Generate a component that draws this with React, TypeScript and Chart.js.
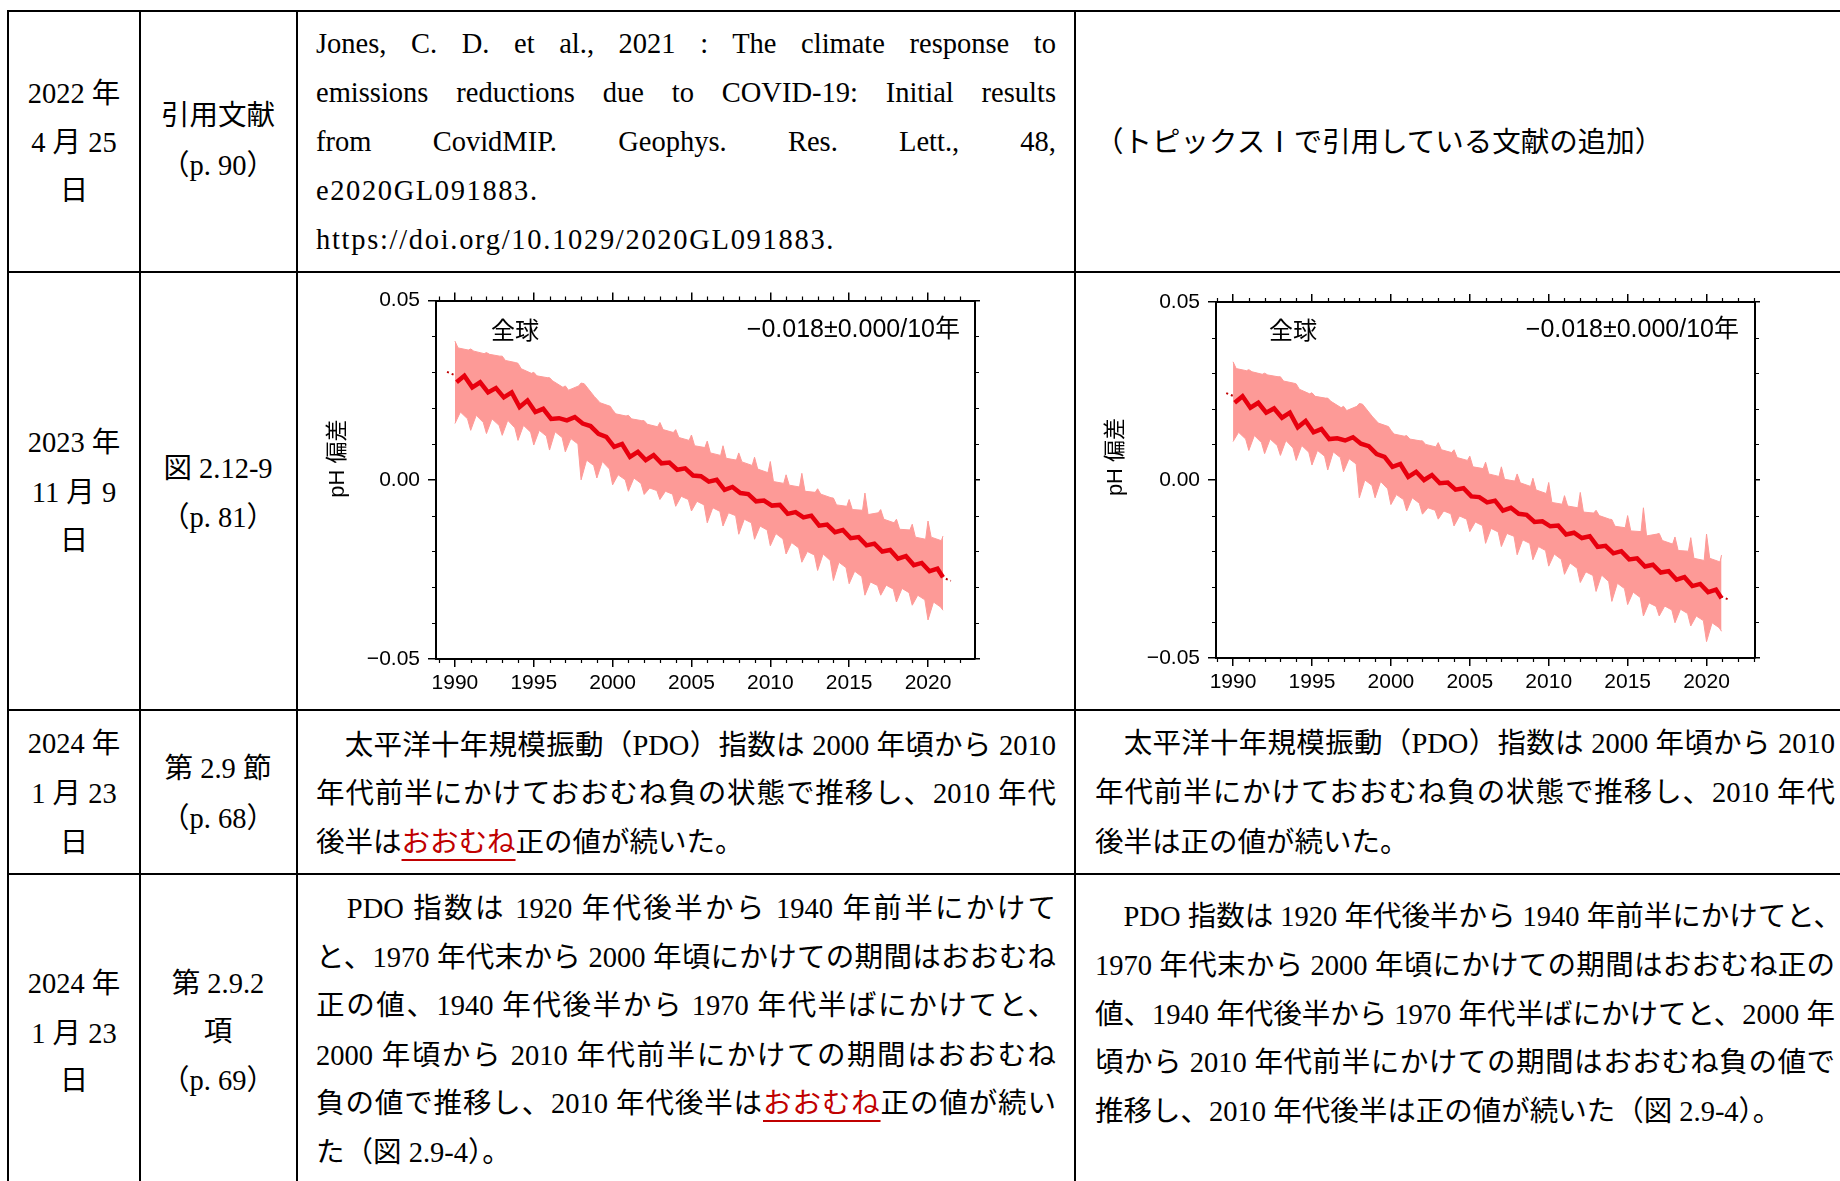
import React, { useEffect, useRef } from 'react';
import { Chart, registerables } from 'chart.js';

Chart.register(...registerables);

// ---------------- chart data ----------------
const YEARS = [1990, 1991, 1992, 1993, 1994, 1995, 1996, 1997, 1998, 1999, 2000, 2001, 2002, 2003, 2004, 2005, 2006, 2007, 2008, 2009, 2010, 2011, 2012, 2013, 2014, 2015, 2016, 2017, 2018, 2019, 2020];
const END_YEAR = 2020.95;
const X_TICKS = [1990, 1995, 2000, 2005, 2010, 2015, 2020];
const Y_TICKS = [-0.05, 0, 0.05];
const X_MINOR_STEP = 1;
const Y_MINOR_STEP = 0.01;

const TITLE_TEXT = '全球';
const RATE_TEXT = '−0.018±0.000/10年';
const Y_TITLE = 'pH 偏差';

// chart 1 (left figure)
const C1_UPPER_SPIKE = [0.0387, 0.0365, 0.0355, 0.0345, 0.0325, 0.0300, 0.0285, 0.0262, 0.0270, 0.0225, 0.0195, 0.0180, 0.0165, 0.0160, 0.0140, 0.0125, 0.0108, 0.0095, 0.0075, 0.0063, 0.0051, 0.0014, 0.0018, -0.0025, -0.0051, -0.0055, -0.0037, -0.0083, -0.0110, -0.0124, -0.0115];
const C1_UPPER_A = [0.0368, 0.0359, 0.0350, 0.0333, 0.0310, 0.0290, 0.0276, 0.0250, 0.0268, 0.0215, 0.0184, 0.0170, 0.0155, 0.0140, 0.0118, 0.0095, 0.0075, 0.0060, 0.0050, 0.0030, -0.0005, -0.0015, -0.0032, -0.0040, -0.0070, -0.0083, -0.0097, -0.0110, -0.0138, -0.0160, -0.0160];
const C1_UPPER_B = [0.0362, 0.0352, 0.0345, 0.0327, 0.0297, 0.0285, 0.0258, 0.0262, 0.0232, 0.0205, 0.0178, 0.0165, 0.0148, 0.0132, 0.0110, 0.0090, 0.0068, 0.0055, 0.0040, 0.0020, -0.0010, -0.0020, -0.0035, -0.0050, -0.0074, -0.0085, -0.0092, -0.0120, -0.0140, -0.0166, -0.0170];
const C1_UPPER_END = -0.0157;
const C1_LOWER_CUSP = [0.0157, 0.0138, 0.0129, 0.0124, 0.0110, 0.0097, 0.0083, 0.0078, 0.0000, 0.0005, -0.0014, -0.0032, -0.0041, -0.0055, -0.0074, -0.0087, -0.0120, -0.0129, -0.0152, -0.0166, -0.0184, -0.0207, -0.0230, -0.0253, -0.0281, -0.0290, -0.0322, -0.0322, -0.0341, -0.0350, -0.0391];
const C1_LOWER_HUMP = [0.0189, 0.0180, 0.0170, 0.0166, 0.0152, 0.0138, 0.0134, 0.0115, 0.0055, 0.0051, 0.0014, 0.0005, -0.0023, -0.0032, -0.0046, -0.0060, -0.0078, -0.0092, -0.0110, -0.0129, -0.0150, -0.0175, -0.0200, -0.0207, -0.0230, -0.0255, -0.0285, -0.0294, -0.0303, -0.0322, -0.0341];
const C1_LOWER_LATE = [0.0170, 0.0160, 0.0152, 0.0145, 0.0133, 0.0122, 0.0118, 0.0100, 0.0040, 0.0030, 0.0000, -0.0010, -0.0030, -0.0040, -0.0055, -0.0070, -0.0088, -0.0100, -0.0120, -0.0140, -0.0165, -0.0190, -0.0210, -0.0225, -0.0245, -0.0270, -0.0295, -0.0305, -0.0315, -0.0335, -0.0355];
const C1_LOWER_END = -0.0364;
const C1_MEAN_LOW = [0.0272, 0.0258, 0.0244, 0.0230, 0.0203, 0.0189, 0.0170, 0.0166, 0.0157, 0.0128, 0.0092, 0.0064, 0.0055, 0.0046, 0.0028, 0.0012, -0.0005, -0.0028, -0.0037, -0.0060, -0.0072, -0.0095, -0.0105, -0.0128, -0.0146, -0.0163, -0.0183, -0.0200, -0.0220, -0.0238, -0.0255];
const C1_MEAN_HIGH = [0.0290, 0.0272, 0.0256, 0.0244, 0.0221, 0.0198, 0.0172, 0.0175, 0.0150, 0.0120, 0.0100, 0.0078, 0.0069, 0.0048, 0.0032, 0.0010, 0.0000, -0.0020, -0.0040, -0.0058, -0.0070, -0.0090, -0.0100, -0.0125, -0.0140, -0.0160, -0.0178, -0.0196, -0.0213, -0.0232, -0.0248];
const C1_MEAN_END = -0.0272;
const C1_TREND_X = [1989.5, 2021.45];
const C1_TREND_Y = [0.0301, -0.0282];

// chart 2 (right figure)
const C2_UPPER_SPIKE = [0.0332, 0.0310, 0.0300, 0.0290, 0.0270, 0.0245, 0.0230, 0.0207, 0.0215, 0.0170, 0.0140, 0.0125, 0.0110, 0.0105, 0.0085, 0.0067, 0.0050, 0.0037, 0.0017, 0.0005, -0.0007, -0.0044, -0.0035, -0.0085, -0.0111, -0.0100, -0.0078, -0.0150, -0.0160, -0.0162, -0.0152];
const C2_UPPER_A = [0.0313, 0.0304, 0.0295, 0.0278, 0.0255, 0.0235, 0.0221, 0.0195, 0.0213, 0.0160, 0.0129, 0.0115, 0.0100, 0.0085, 0.0063, 0.0037, 0.0017, 0.0002, -0.0008, -0.0028, -0.0063, -0.0073, -0.0090, -0.0100, -0.0130, -0.0143, -0.0157, -0.0170, -0.0198, -0.0220, -0.0220];
const C2_UPPER_B = [0.0307, 0.0297, 0.0290, 0.0272, 0.0242, 0.0230, 0.0203, 0.0207, 0.0177, 0.0150, 0.0123, 0.0110, 0.0093, 0.0077, 0.0055, 0.0032, 0.0010, -0.0003, -0.0018, -0.0038, -0.0068, -0.0078, -0.0093, -0.0110, -0.0134, -0.0145, -0.0152, -0.0180, -0.0200, -0.0226, -0.0230];
const C2_UPPER_END = -0.0211;
const C2_LOWER_CUSP = [0.0108, 0.0083, 0.0074, 0.0069, 0.0055, 0.0042, 0.0028, 0.0023, -0.0050, -0.0050, -0.0069, -0.0087, -0.0096, -0.0110, -0.0129, -0.0145, -0.0178, -0.0187, -0.0210, -0.0224, -0.0242, -0.0265, -0.0288, -0.0313, -0.0341, -0.0350, -0.0382, -0.0382, -0.0401, -0.0410, -0.0454];
const C2_LOWER_HUMP = [0.0134, 0.0125, 0.0115, 0.0111, 0.0097, 0.0083, 0.0079, 0.0060, 0.0000, -0.0004, -0.0041, -0.0050, -0.0078, -0.0087, -0.0101, -0.0118, -0.0136, -0.0150, -0.0168, -0.0187, -0.0208, -0.0233, -0.0258, -0.0267, -0.0290, -0.0315, -0.0345, -0.0354, -0.0363, -0.0382, -0.0401];
const C2_LOWER_LATE = [0.0115, 0.0105, 0.0097, 0.0090, 0.0078, 0.0067, 0.0063, 0.0045, -0.0015, -0.0025, -0.0055, -0.0065, -0.0085, -0.0095, -0.0110, -0.0128, -0.0146, -0.0158, -0.0178, -0.0198, -0.0223, -0.0248, -0.0268, -0.0285, -0.0305, -0.0330, -0.0355, -0.0365, -0.0375, -0.0395, -0.0415];
const C2_LOWER_END = -0.0425;
const C2_MEAN_LOW = [0.0217, 0.0203, 0.0189, 0.0175, 0.0148, 0.0134, 0.0115, 0.0111, 0.0102, 0.0073, 0.0037, 0.0009, 0.0000, -0.0009, -0.0027, -0.0046, -0.0063, -0.0086, -0.0095, -0.0118, -0.0130, -0.0153, -0.0163, -0.0188, -0.0206, -0.0223, -0.0243, -0.0260, -0.0280, -0.0298, -0.0315];
const C2_MEAN_HIGH = [0.0235, 0.0217, 0.0201, 0.0189, 0.0166, 0.0143, 0.0117, 0.0120, 0.0095, 0.0065, 0.0045, 0.0023, 0.0014, -0.0007, -0.0023, -0.0048, -0.0058, -0.0078, -0.0098, -0.0116, -0.0128, -0.0148, -0.0158, -0.0185, -0.0200, -0.0220, -0.0238, -0.0256, -0.0273, -0.0292, -0.0308];
const C2_MEAN_END = -0.0332;
const C2_TREND_X = [1989.57, 2021.47];
const C2_TREND_Y = [0.0244, -0.0337];

// ---------------- styles ----------------
const PINK = '#fd9a97';
const RED = '#e8000e';
const TREND_RED = '#c00000';
const SANS = '"Liberation Sans", Arial, sans-serif';
const SERIF = '"Liberation Serif", "Noto Sans CJK JP", serif';
const RED_TEXT = '#c00000';
const FS = 28.5;
const LH = 49;

type SeriesSet = {
  upperSpike: number[]; upperA: number[]; upperB: number[]; upperEnd: number;
  lowerCusp: number[]; lowerHump: number[]; lowerLate: number[]; lowerEnd: number;
  meanLow: number[]; meanHigh: number[]; meanEnd: number;
  trendX: number[]; trendY: number[];
};

type Geom = {
  left: number; top: number; W: number; H: number;
  L: number; R: number; T: number; B: number;
  xMin: number; xMax: number;
  titleDx: number; titleDy: number; rateDx: number; rateDy: number;
  yTitleDx: number; yTitleDy: number;
};

const SET1: SeriesSet = {
  upperSpike: C1_UPPER_SPIKE, upperA: C1_UPPER_A, upperB: C1_UPPER_B, upperEnd: C1_UPPER_END,
  lowerCusp: C1_LOWER_CUSP, lowerHump: C1_LOWER_HUMP, lowerLate: C1_LOWER_LATE, lowerEnd: C1_LOWER_END,
  meanLow: C1_MEAN_LOW, meanHigh: C1_MEAN_HIGH, meanEnd: C1_MEAN_END,
  trendX: C1_TREND_X, trendY: C1_TREND_Y,
};
const SET2: SeriesSet = {
  upperSpike: C2_UPPER_SPIKE, upperA: C2_UPPER_A, upperB: C2_UPPER_B, upperEnd: C2_UPPER_END,
  lowerCusp: C2_LOWER_CUSP, lowerHump: C2_LOWER_HUMP, lowerLate: C2_LOWER_LATE, lowerEnd: C2_LOWER_END,
  meanLow: C2_MEAN_LOW, meanHigh: C2_MEAN_HIGH, meanEnd: C2_MEAN_END,
  trendX: C2_TREND_X, trendY: C2_TREND_Y,
};

const GEOM1: Geom = {
  left: 320, top: 280, W: 680, H: 425, L: 116, R: 25, T: 19, B: 46,
  xMin: 1988.8, xMax: 2022.98,
  titleDx: 55, titleDy: 29, rateDx: 15, rateDy: 30, yTitleDx: 98, yTitleDy: 158,
};
const GEOM2: Geom = {
  left: 1100, top: 280, W: 680, H: 425, L: 116, R: 25, T: 22, B: 47,
  xMin: 1988.92, xMax: 2023.07,
  titleDx: 53, titleDy: 28, rateDx: 16, rateDy: 28, yTitleDx: 100, yTitleDy: 155,
};

function fmtY(v: number) {
  if (Math.abs(v) < 1e-9) return '0.00';
  return (v < 0 ? '\u2212' : '') + Math.abs(v).toFixed(2);
}

function buildConfig(d: SeriesSet, g: Geom): any {
  const upper: { x: number; y: number }[] = [];
  const lower: { x: number; y: number }[] = [];
  const mean: { x: number; y: number }[] = [];
  YEARS.forEach((yr, i) => {
    upper.push({ x: yr, y: d.upperSpike[i] }, { x: yr + 0.2, y: d.upperA[i] }, { x: yr + 0.85, y: d.upperB[i] });
    lower.push({ x: yr, y: d.lowerCusp[i] }, { x: yr + 0.35, y: d.lowerHump[i] }, { x: yr + 0.8, y: d.lowerLate[i] });
    mean.push({ x: yr + 0.1, y: d.meanLow[i] }, { x: yr + 0.6, y: d.meanHigh[i] });
  });
  upper.push({ x: END_YEAR, y: d.upperEnd });
  lower.push({ x: END_YEAR, y: d.lowerEnd });
  mean.push({ x: END_YEAR, y: d.meanEnd });
  const trend = d.trendX.map((x, i) => ({ x, y: d.trendY[i] }));

  const gridCommon = { display: true, drawOnChartArea: false, drawTicks: true, color: '#000', lineWidth: 1.5 };
  const borderCommon = { display: true, color: '#000', width: 2 };

  const decor = {
    id: 'decor',
    afterDraw(chart: any) {
      const { ctx, chartArea: ca, scales } = chart;
      const xs = scales.x;
      const ys = scales.y;
      ctx.save();
      ctx.strokeStyle = '#000';
      ctx.lineWidth = 1.2;
      ctx.beginPath();
      for (let v = Math.ceil(xs.min); v <= xs.max; v += X_MINOR_STEP) {
        if (X_TICKS.includes(v)) continue;
        const px = Math.round(xs.getPixelForValue(v)) + 0.5;
        ctx.moveTo(px, ca.bottom); ctx.lineTo(px, ca.bottom + 4);
        ctx.moveTo(px, ca.top); ctx.lineTo(px, ca.top - 4);
      }
      for (let k = -5; k <= 5; k++) {
        const v = k * Y_MINOR_STEP;
        if (k % 5 === 0) continue;
        const py = Math.round(ys.getPixelForValue(v)) + 0.5;
        ctx.moveTo(ca.left, py); ctx.lineTo(ca.left - 4, py);
        ctx.moveTo(ca.right, py); ctx.lineTo(ca.right + 4, py);
      }
      ctx.stroke();

      ctx.fillStyle = '#000';
      ctx.textBaseline = 'middle';
      ctx.textAlign = 'left';
      ctx.font = '24px "Noto Sans CJK JP", sans-serif';
      ctx.fillText(TITLE_TEXT, ca.left + g.titleDx, ca.top + g.titleDy);
      ctx.textAlign = 'right';
      ctx.font = '25px "Liberation Sans", "Noto Sans CJK JP", sans-serif';
      ctx.fillText(RATE_TEXT, ca.right - g.rateDx, ca.top + g.rateDy);

      ctx.translate(ca.left - g.yTitleDx, ca.top + g.yTitleDy);
      ctx.rotate(-Math.PI / 2);
      ctx.textAlign = 'center';
      ctx.font = '22px "Liberation Sans", "Noto Sans CJK JP", sans-serif';
      ctx.fillText(Y_TITLE, 0, 0);
      ctx.restore();
    },
  };

  return {
    type: 'line',
    data: {
      datasets: [
        { data: upper, fill: '+1', backgroundColor: PINK, borderColor: PINK, borderWidth: 1, pointRadius: 0, tension: 0, order: 10 },
        { data: lower, fill: false, borderColor: PINK, borderWidth: 1, pointRadius: 0, tension: 0, order: 9 },
        { data: trend, fill: false, borderColor: TREND_RED, borderWidth: 2, borderDash: [2, 3], pointRadius: 0, order: 20 },
        { data: mean, fill: false, borderColor: RED, borderWidth: 4.5, pointRadius: 0, tension: 0, order: 1 },
      ],
    },
    options: {
      responsive: false,
      animation: false,
      devicePixelRatio: 1,
      layout: { padding: 0 },
      plugins: { legend: { display: false }, tooltip: { enabled: false }, title: { display: false } },
      scales: {
        x: {
          type: 'linear', position: 'bottom', min: g.xMin, max: g.xMax,
          afterBuildTicks: (s: any) => { s.ticks = X_TICKS.map((v) => ({ value: v })); },
          afterFit: (s: any) => { s.height = g.B; },
          ticks: { autoSkip: false, maxRotation: 0, padding: 4, color: '#000', font: { family: SANS, size: 21 }, callback: (v: any) => String(v) },
          grid: { ...gridCommon, tickLength: 8 },
          border: borderCommon,
        },
        x2: {
          type: 'linear', position: 'top', min: g.xMin, max: g.xMax,
          afterBuildTicks: (s: any) => { s.ticks = X_TICKS.map((v) => ({ value: v })); },
          afterFit: (s: any) => { s.height = g.T; },
          ticks: { display: false },
          grid: { ...gridCommon, tickLength: 8 },
          border: borderCommon,
        },
        y: {
          type: 'linear', position: 'left', min: -0.05, max: 0.05,
          afterBuildTicks: (s: any) => { s.ticks = Y_TICKS.map((v) => ({ value: v })); },
          afterFit: (s: any) => { s.width = g.L; },
          ticks: { padding: 8, color: '#000', font: { family: SANS, size: 21 }, callback: (v: any) => fmtY(Number(v)) },
          grid: { ...gridCommon, tickLength: 8 },
          border: borderCommon,
        },
        y2: {
          type: 'linear', position: 'right', min: -0.05, max: 0.05,
          afterBuildTicks: (s: any) => { s.ticks = Y_TICKS.map((v) => ({ value: v })); },
          afterFit: (s: any) => { s.width = g.R; },
          ticks: { display: false },
          grid: { ...gridCommon, tickLength: 5 },
          border: borderCommon,
        },
      },
    },
    plugins: [decor],
  };
}

function PhChart({ data, geom }: { data: SeriesSet; geom: Geom }) {
  const ref = useRef<HTMLCanvasElement | null>(null);
  useEffect(() => {
    if (!ref.current) return;
    const chart = new Chart(ref.current, buildConfig(data, geom));
    return () => chart.destroy();
  }, [data, geom]);
  return (
    <canvas
      ref={ref}
      width={geom.W}
      height={geom.H}
      style={{ position: 'absolute', left: geom.left, top: geom.top, width: geom.W, height: geom.H }}
    />
  );
}

// ---------------- table text ----------------
type Seg = string | { red: string };
type TLine = { segs: Seg[]; cy: number; align: 'left' | 'center' | 'justify'; ls?: number };

const H_LINES = [10, 271, 709, 873];
const V_LINES = [7, 139, 296, 1074];

const COL1_CX = 74;
const COL2_CX = 218;
const COL3_LEFT = 316;
const COL4_LEFT = 1095;
const TEXT_W = 740;

const COL1_LINES: TLine[] = [
  { segs: ['2022 年'], cy: 93, align: 'center' },
  { segs: ['4 月 25'], cy: 142, align: 'center' },
  { segs: ['日'], cy: 190, align: 'center' },
  { segs: ['2023 年'], cy: 442, align: 'center' },
  { segs: ['11 月 9'], cy: 492, align: 'center' },
  { segs: ['日'], cy: 540, align: 'center' },
  { segs: ['2024 年'], cy: 743, align: 'center' },
  { segs: ['1 月 23'], cy: 793, align: 'center' },
  { segs: ['日'], cy: 842, align: 'center' },
  { segs: ['2024 年'], cy: 983, align: 'center' },
  { segs: ['1 月 23'], cy: 1033, align: 'center' },
  { segs: ['日'], cy: 1080, align: 'center' },
];

const COL2_LINES: TLine[] = [
  { segs: ['引用文献'], cy: 115, align: 'center' },
  { segs: ['（p. 90）'], cy: 165, align: 'center' },
  { segs: ['図 2.12-9'], cy: 468, align: 'center' },
  { segs: ['（p. 81）'], cy: 517, align: 'center' },
  { segs: ['第 2.9 節'], cy: 768, align: 'center' },
  { segs: ['（p. 68）'], cy: 818, align: 'center' },
  { segs: ['第 2.9.2'], cy: 983, align: 'center' },
  { segs: ['項'], cy: 1031, align: 'center' },
  { segs: ['（p. 69）'], cy: 1080, align: 'center' },
];

const COL3_LINES: TLine[] = [
  { segs: ['Jones, C. D. et al., 2021 : The climate response to'], cy: 43.5, align: 'justify' },
  { segs: ['emissions reductions due to COVID-19: Initial results'], cy: 92.5, align: 'justify' },
  { segs: ['from CovidMIP. Geophys. Res. Lett., 48,'], cy: 141.5, align: 'justify' },
  { segs: ['e2020GL091883.'], cy: 190.5, align: 'left', ls: 1.6 },
  { segs: ['https://doi.org/10.1029/2020GL091883.'], cy: 239.5, align: 'left', ls: 1.7 },
  { segs: ['　太平洋十年規模振動（PDO）指数は 2000 年頃から 2010'], cy: 745, align: 'justify' },
  { segs: ['年代前半にかけておおむね負の状態で推移し、2010 年代'], cy: 793, align: 'justify' },
  { segs: ['後半は', { red: 'おおむね' }, '正の値が続いた。'], cy: 842, align: 'left' },
  { segs: ['　PDO 指数は 1920 年代後半から 1940 年前半にかけて'], cy: 908, align: 'justify' },
  { segs: ['と、1970 年代末から 2000 年頃にかけての期間はおおむね'], cy: 957, align: 'justify' },
  { segs: ['正の値、1940 年代後半から 1970 年代半ばにかけてと、'], cy: 1005, align: 'justify' },
  { segs: ['2000 年頃から 2010 年代前半にかけての期間はおおむね'], cy: 1055, align: 'justify' },
  { segs: ['負の値で推移し、2010 年代後半は', { red: 'おおむね' }, '正の値が続い'], cy: 1103, align: 'justify' },
  { segs: ['た（図 2.9-4）。'], cy: 1152, align: 'left' },
];

const COL4_LINES: TLine[] = [
  { segs: ['（トピックスⅠで引用している文献の追加）'], cy: 142, align: 'left' },
  { segs: ['　太平洋十年規模振動（PDO）指数は 2000 年頃から 2010'], cy: 743, align: 'justify' },
  { segs: ['年代前半にかけておおむね負の状態で推移し、2010 年代'], cy: 792, align: 'justify' },
  { segs: ['後半は正の値が続いた。'], cy: 842, align: 'left' },
  { segs: ['　PDO 指数は 1920 年代後半から 1940 年前半にかけてと、'], cy: 916, align: 'justify' },
  { segs: ['1970 年代末から 2000 年頃にかけての期間はおおむね正の'], cy: 965, align: 'justify' },
  { segs: ['値、1940 年代後半から 1970 年代半ばにかけてと、2000 年'], cy: 1014, align: 'justify' },
  { segs: ['頃から 2010 年代前半にかけての期間はおおむね負の値で'], cy: 1062, align: 'justify' },
  { segs: ['推移し、2010 年代後半は正の値が続いた（図 2.9-4）。'], cy: 1111, align: 'left' },
];

function TextLine({ line, left, width }: { line: TLine; left: number; width: number }) {
  const al = line.align;
  return (
    <div
      style={{
        position: 'absolute',
        left,
        top: line.cy - LH / 2,
        width,
        height: LH,
        lineHeight: LH + 'px',
        fontSize: FS,
        fontFamily: SERIF,
        color: '#000',
        whiteSpace: 'nowrap',
        letterSpacing: line.ls ? line.ls + 'px' : undefined,
        textAlign: al as any,
        textAlignLast: al as any,
      }}
    >
      {line.segs.map((s, i) =>
        typeof s === 'string' ? (
          <span key={i}>{s}</span>
        ) : (
          <span
            key={i}
            style={{
              color: RED_TEXT,
              textDecorationLine: 'underline',
              textDecorationColor: RED_TEXT,
              textDecorationThickness: '2px',
              textUnderlineOffset: '7px',
            }}
          >
            {s.red}
          </span>
        )
      )}
    </div>
  );
}

export default function App() {
  return (
    <div style={{ position: 'absolute', left: 0, top: 0, width: 1840, height: 1181, overflow: 'hidden', background: '#fff' }}>
      {H_LINES.map((y, i) => (
        <div key={'h' + i} style={{ position: 'absolute', left: 7, top: y, width: 1840, height: 2, background: '#000' }} />
      ))}
      {V_LINES.map((x, i) => (
        <div key={'v' + i} style={{ position: 'absolute', left: x, top: 10, width: 2, height: 1181, background: '#000' }} />
      ))}
      {COL1_LINES.map((l, i) => (
        <TextLine key={'c1' + i} line={l} left={COL1_CX - 70} width={140} />
      ))}
      {COL2_LINES.map((l, i) => (
        <TextLine key={'c2' + i} line={l} left={COL2_CX - 80} width={160} />
      ))}
      {COL3_LINES.map((l, i) => (
        <TextLine key={'c3' + i} line={l} left={COL3_LEFT} width={TEXT_W} />
      ))}
      {COL4_LINES.map((l, i) => (
        <TextLine key={'c4' + i} line={l} left={COL4_LEFT} width={TEXT_W} />
      ))}
      <PhChart data={SET1} geom={GEOM1} />
      <PhChart data={SET2} geom={GEOM2} />
    </div>
  );
}
